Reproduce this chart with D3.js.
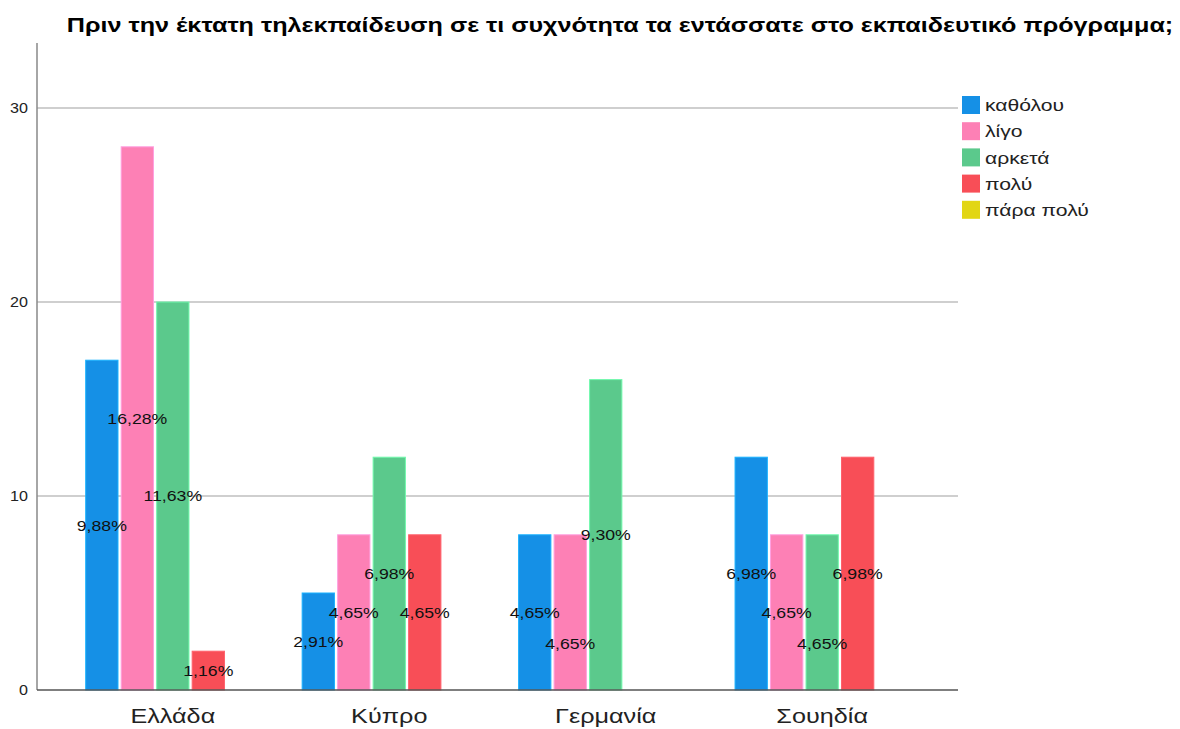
<!DOCTYPE html>
<html>
<head>
<meta charset="utf-8">
<script src="https://cdn.jsdelivr.net/npm/d3@7"></script>
<style>
  body { margin: 0; background: #fff; }
  text { font-family: "Liberation Sans", Arial, sans-serif; }
</style>
</head>
<body>
<div id="chart"></div>
<script>
const countries = ["Ελλάδα", "Κύπρο", "Γερμανία", "Σουηδία"];
const levels = ["καθόλου", "λίγο", "αρκετά", "πολύ", "πάρα πολύ"];
const colors = ["#1590e6", "#fd80b5", "#5bc98c", "#f84e57", "#e2d614"];

// counts per level, one entry per country
const katholou = [17, 5, 8, 12];
const ligo = [28, 8, 8, 8];
const arketa = [20, 12, 16, 8];
const poly = [2, 8, 0, 12];
const paraPoly = [0, 0, 0, 0];

// percentage labels as printed on the bars
const pctKatholou = ["9,88%", "2,91%", "4,65%", "6,98%"];
const pctLigo = ["16,28%", "4,65%", "4,65%", "4,65%"];
const pctArketa = ["11,63%", "6,98%", "9,30%", "4,65%"];
const pctPoly = ["1,16%", "4,65%", "", "6,98%"];
const pctParaPoly = ["", "", "", ""];

const yTicks = [0, 10, 20, 30];

const series = [katholou, ligo, arketa, poly, paraPoly];
const pcts = [pctKatholou, pctLigo, pctArketa, pctPoly, pctParaPoly];

const width = 1180, height = 729;
const plotLeft = 37, plotRight = 958, plotTop = 43, plotBottom = 690;

// the source font is wider than Liberation Sans, so widen the glyphs a bit
function widen(sel, k) {
  sel.each(function () {
    const w = this.getComputedTextLength();
    d3.select(this).attr("textLength", w * k).attr("lengthAdjust", "spacingAndGlyphs");
  });
}

const svg = d3.select("#chart").append("svg")
  .attr("width", width).attr("height", height);

// title
svg.append("text")
  .attr("x", 620).attr("y", 32)
  .attr("text-anchor", "middle")
  .style("font-size", "19.5px").style("font-weight", "bold")
  .text("Πριν την έκτατη τηλεκπαίδευση σε τι συχνότητα τα εντάσσατε στο εκπαιδευτικό πρόγραμμα;")
  .call(widen, 1.29);

const y = d3.scaleLinear().domain([0, 30]).range([plotBottom, 108]);

const x0 = d3.scaleBand().domain(countries)
  .range([plotLeft, plotRight]).paddingInner(0.195).paddingOuter(0.225);

const x1 = d3.scaleBand().domain(levels)
  .range([0, x0.bandwidth()]).paddingInner(0.09).paddingOuter(0);

// gridlines
svg.append("g").selectAll("line")
  .data(yTicks.filter(d => d > 0))
  .enter().append("line")
  .attr("x1", plotLeft).attr("x2", plotRight)
  .attr("y1", d => y(d)).attr("y2", d => y(d))
  .attr("stroke", "#cfcfcf").attr("stroke-width", 2);

// y axis
const yAxis = svg.append("g")
  .attr("transform", `translate(${plotLeft},0)`)
  .call(d3.axisLeft(y).tickValues(yTicks).tickSize(0).tickPadding(9));
yAxis.select(".domain").remove();
yAxis.selectAll("text").style("font-size", "14px").attr("fill", "#222")
  .style("font-family", "'Liberation Sans', Arial, sans-serif")
  .call(widen, 1.15);
svg.append("line")
  .attr("x1", plotLeft).attr("x2", plotLeft).attr("y1", plotTop).attr("y2", plotBottom)
  .attr("stroke", "#888").attr("stroke-width", 1.5);

// bars
const groups = svg.append("g").selectAll("g")
  .data(countries)
  .enter().append("g")
  .attr("transform", d => `translate(${x0(d)},0)`);

const barData = (c, ci) => levels.map((l, li) => ({
  level: l, li, ci, value: series[li][ci], pct: pcts[li][ci]
}));

groups.selectAll("rect")
  .data((c, ci) => barData(c, ci).filter(d => d.value > 0))
  .enter().append("rect")
  .attr("x", d => x1(d.level))
  .attr("y", d => y(d.value))
  .attr("width", x1.bandwidth())
  .attr("height", d => y(0) - y(d.value))
  .attr("fill", d => colors[d.li])
  .attr("stroke", d => d3.color(colors[d.li]).brighter(0.6))
  .attr("stroke-width", 1);

// x axis baseline
svg.append("line")
  .attr("x1", plotLeft).attr("x2", plotRight).attr("y1", plotBottom).attr("y2", plotBottom)
  .attr("stroke", "#555").attr("stroke-width", 1.5);

// category labels
svg.append("g").selectAll("text")
  .data(countries)
  .enter().append("text")
  .attr("x", d => x0(d) + x0.bandwidth() / 2)
  .attr("y", 723)
  .attr("text-anchor", "middle")
  .style("font-size", "21px").attr("fill", "#222")
  .text(d => d)
  .call(widen, 1.2);

// value labels: middle of the bar, pushed down when it hits its neighbour
countries.forEach((c, ci) => {
  const placed = [];
  barData(c, ci).filter(d => d.value > 0 && d.pct).forEach(d => {
    const cx = x0(c) + x1(d.level) + x1.bandwidth() / 2;
    let cy = (y(0) + y(d.value)) / 2;
    const prev = placed[placed.length - 1];
    if (prev && prev.li === d.li - 1 && Math.abs(prev.cy - cy) < 16) cy = prev.cy + 31;
    placed.push({ li: d.li, cy });
    svg.append("text")
      .attr("x", cx).attr("y", cy)
      .attr("dy", "0.35em")
      .attr("text-anchor", "middle")
      .style("font-size", "15.5px").attr("fill", "#111")
      .text(d.pct)
      .call(widen, 1.14);
  });
});

// legend
const legend = svg.append("g").attr("transform", "translate(962,96)");
const item = legend.selectAll("g")
  .data(levels)
  .enter().append("g")
  .attr("transform", (d, i) => `translate(0,${i * 26.2})`);
item.append("rect")
  .attr("width", 18).attr("height", 18)
  .attr("fill", (d, i) => colors[i]);
item.append("text")
  .attr("x", 23).attr("y", 9.5).attr("dy", "0.35em")
  .style("font-size", "16.5px").attr("fill", "#222")
  .text(d => d)
  .call(widen, 1.28);
</script>
</body>
</html>
